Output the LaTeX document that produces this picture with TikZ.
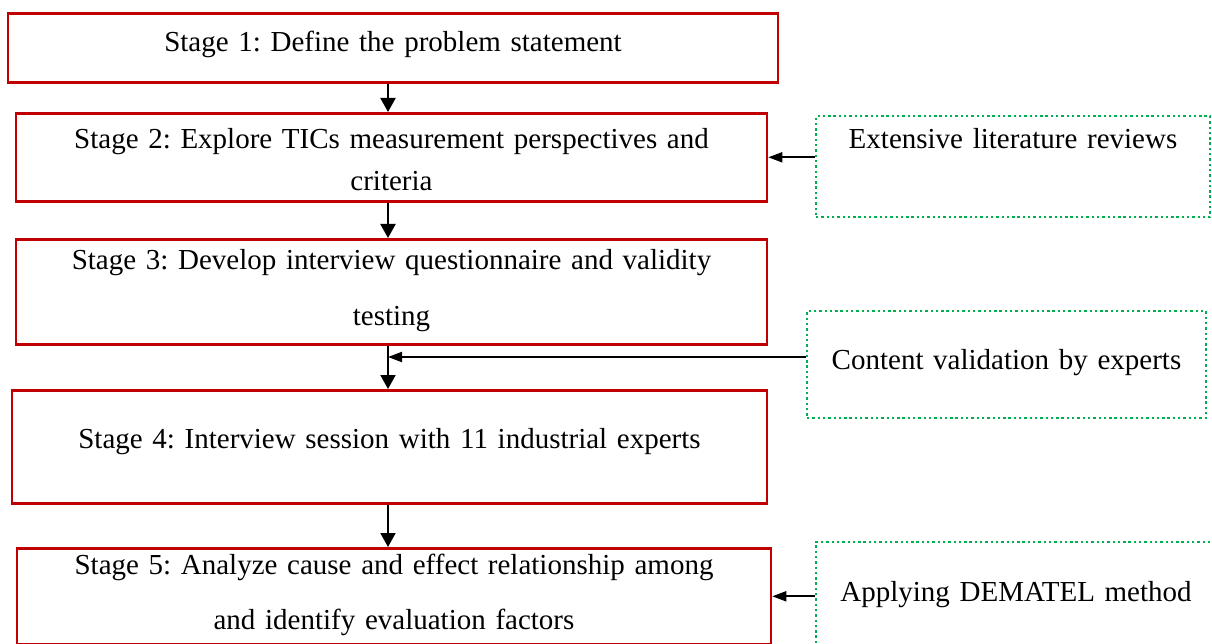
\documentclass[tikz,border=0pt]{standalone}
\usepackage{fontspec}
\setmainfont{Liberation Serif}
\usetikzlibrary{arrows.meta}
\definecolor{boxred}{HTML}{C00000}
\definecolor{dotgreen}{HTML}{00B050}
\tikzset{
stagebox/.style={draw=boxred,line width=2.6pt,anchor=north,inner sep=0pt,align=center,font=\fontsize{29}{34}\selectfont\frenchspacing},
sourcebox/.style={draw=dotgreen,line width=2.4pt,dash pattern=on 2.4pt off 2.9pt,anchor=north,inner sep=0pt,align=center,font=\fontsize{29}{34}\selectfont\frenchspacing},
flow/.style={line width=2pt,-{Triangle[length=14pt,width=15pt]}},
feed/.style={line width=2pt,-{Triangle[length=14pt,width=10pt]}}
}
\begin{document}
\begin{tikzpicture}[x=1pt,y=-1pt]
\useasboundingbox (0,0) rectangle (1212,644);
\node[stagebox,text width=770pt,text height=38pt,text depth=31pt] (s1) at (393,12) {Stage 1: Define the problem statement};
\node[stagebox,text width=751pt,text height=35pt,text depth=53pt] (s2) at (391.5,112) {Stage 2: Explore TICs measurement perspectives and\\[8pt]criteria};
\node[stagebox,text width=751pt,text height=30pt,text depth=75pt] (s3) at (391.5,238) {Stage 3: Develop interview questionnaire and validity\\[22pt]testing};
\node[stagebox,text width=755pt,text height=58pt,text depth=55pt] (s4) at (389.5,389) {Stage 4: Interview session with 11 industrial experts};
\node[stagebox,text width=754pt,text height=26pt,text depth=70pt] (s5) at (394,547) {Stage 5: Analyze cause and effect relationship among\\[21pt]and identify evaluation factors};
\node[sourcebox,text width=394pt,text height=32pt,text depth=69pt] (lit) at (1013,115) {Extensive literature reviews};
\node[sourcebox,text width=399pt,text height=58pt,text depth=49pt] (valid) at (1006.5,310) {Content validation by experts};
\node[sourcebox,text width=400pt,text height=59pt,text depth=60pt] (dematel) at (1016,541) {Applying DEMATEL method};
\coordinate (axis) at (388,0);
\coordinate (join) at (388,357);
\draw[flow] (s1.south -| axis) -- (s2.north -| axis);
\draw[flow] (s2.south -| axis) -- (s3.north -| axis);
\draw[line width=2pt] (s3.south -| axis) -- (join);
\draw[flow] (join) -- (s4.north -| axis);
\draw[flow] (s4.south -| axis) -- (s5.north -| axis);
\draw[feed] (lit.west |- s2.east) -- (s2.east);
\draw[feed] (valid.west |- join) -- (join);
\draw[feed] (dematel.west |- s5.east) -- (s5.east);
\end{tikzpicture}
\end{document}
